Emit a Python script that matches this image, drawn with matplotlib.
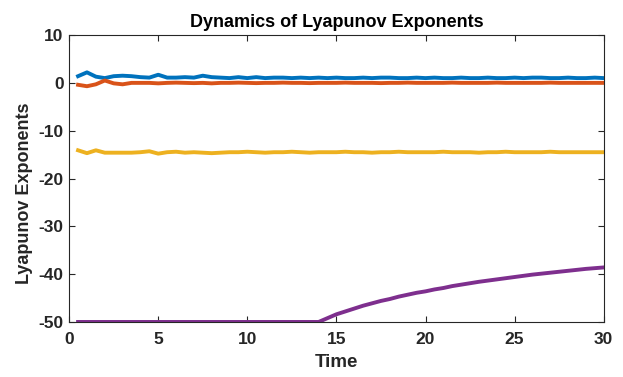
import numpy as np
import matplotlib
matplotlib.use("Agg")
import matplotlib.pyplot as plt

plt.rcParams['font.family'] = ['Liberation Sans', 'DejaVu Sans']
plt.rcParams['font.weight'] = 'bold'
plt.rcParams['axes.unicode_minus'] = False

# Time grid (step 0.5)
time = np.arange(1, 61) * 0.5

lyap_1 = [1.4, 2.2, 1.3, 1.0, 1.4, 1.5, 1.4, 1.2, 1.1, 1.7,
          1.1, 1.1, 1.2, 1.1, 1.5, 1.2, 1.1, 1.0, 1.2, 1.0,
          1.2, 1.0, 1.1, 1.1, 1.0, 1.1, 1.0, 1.1, 1.0, 1.1,
          1.0, 1.0, 1.1, 1.0, 1.1, 1.1, 1.0, 1.0, 1.1, 1.0,
          1.1, 1.0, 1.0, 1.1, 1.0, 1.0, 1.1, 1.0, 1.0, 1.1,
          1.0, 1.1, 1.1, 1.0, 1.0, 1.1, 1.0, 1.0, 1.1, 1.0]

lyap_2 = [-0.4, -0.7, -0.3, 0.5, -0.1, -0.3, 0.0, 0.0, 0.0, -0.1,
          0.0, 0.05, 0.0, -0.05, 0.0, -0.1, 0.0, 0.0, 0.05, 0.0,
          -0.05, 0.0, 0.0, 0.05, 0.0, 0.0, -0.05, 0.0, 0.0, 0.0,
          0.05, 0.0, 0.0, 0.0, -0.05, 0.0, 0.0, 0.05, 0.0, 0.0,
          0.0, 0.0, 0.05, 0.0, 0.0, 0.0, 0.0, 0.05, 0.0, 0.0,
          0.0, 0.0, 0.0, 0.05, 0.0, 0.0, 0.0, 0.0, 0.0, 0.0]

lyap_3 = [-14.1, -14.7, -14.1, -14.6, -14.6, -14.6, -14.6, -14.5, -14.3, -14.8,
          -14.5, -14.4, -14.6, -14.5, -14.6, -14.7, -14.6, -14.5, -14.5, -14.4,
          -14.5, -14.6, -14.5, -14.5, -14.4, -14.5, -14.6, -14.5, -14.5, -14.5,
          -14.4, -14.5, -14.5, -14.6, -14.5, -14.5, -14.4, -14.5, -14.5, -14.5,
          -14.5, -14.4, -14.5, -14.5, -14.5, -14.6, -14.5, -14.5, -14.4, -14.5,
          -14.5, -14.5, -14.5, -14.4, -14.5, -14.5, -14.5, -14.5, -14.5, -14.5]

lyap_4 = [-50.0] * 28 + [
          -49.2, -48.4, -47.8, -47.2, -46.6, -46.1, -45.6, -45.2, -44.7, -44.3,
          -43.9, -43.6, -43.2, -42.9, -42.5, -42.2, -41.9, -41.6, -41.35, -41.1,
          -40.85, -40.6, -40.35, -40.1, -39.9, -39.7, -39.5, -39.3, -39.1, -38.9,
          -38.75, -38.6]

colors = ['#0072BD', '#D95319', '#EDB120', '#7E2F8E']

x_ticks = [0, 5, 10, 15, 20, 25, 30]
y_ticks = [-50, -40, -30, -20, -10, 0, 10]

fig = plt.figure(figsize=(6.23, 3.77), dpi=100)
ax = fig.add_axes([0.111, 0.146, 0.858, 0.761])

for series, c in zip([lyap_1, lyap_2, lyap_3, lyap_4], colors):
    ax.plot(time, series, color=c, linewidth=2.8, solid_joinstyle='round')

ax.set_xlim(0, 30)
ax.set_ylim(-50, 10)
ax.set_xticks(x_ticks)
ax.set_yticks(y_ticks)
ax.tick_params(direction='in', top=True, right=True, length=4, width=0.8,
               color='#262626', labelsize=12.5, labelcolor='#262626')
ax.tick_params(axis='x', pad=7)
ax.tick_params(axis='y', pad=4)
for lab in ax.get_xticklabels() + ax.get_yticklabels():
    lab.set_fontweight('bold')
for s in ax.spines.values():
    s.set_color('#262626')
    s.set_linewidth(0.8)

ax.set_xlabel('Time', fontsize=13.5, fontweight='bold', color='#262626', labelpad=5)
ax.set_ylabel('Lyapunov Exponents', fontsize=13, fontweight='bold', color='#262626')
ax.yaxis.set_label_coords(-0.068, 0.45)
ax.set_title('Dynamics of Lyapunov Exponents', fontsize=13, fontweight='bold', pad=6)

fig.savefig('out.png', dpi=100)
